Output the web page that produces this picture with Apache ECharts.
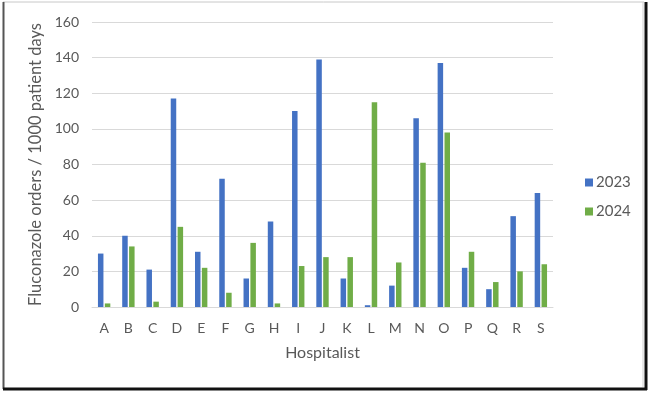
<!DOCTYPE html>
<html>
<head>
<meta charset="utf-8">
<script src="https://cdn.jsdelivr.net/npm/echarts@6/dist/echarts.min.js"></script>
<style>
    html, body {margin: 0; padding: 0; background: #fff;}
    #chart {width: 650px; height: 394px;}
</style>
</head>
<body>
<div id="chart"></div>
<script>
const hospitalists = ['A', 'B', 'C', 'D', 'E', 'F', 'G', 'H', 'I', 'J', 'K', 'L', 'M', 'N', 'O', 'P', 'Q', 'R', 'S'];
const values2023 = [30, 40, 21, 117, 31, 72, 16, 48, 110, 139, 16, 1, 12, 106, 137, 22, 10, 51, 64];
const values2024 = [2, 34, 3, 45, 22, 8, 36, 2, 23, 28, 28, 115, 25, 81, 98, 31, 14, 20, 24];
const yTicks = [0, 20, 40, 60, 80, 100, 120, 140, 160];

const textColor = '#595959',
    fontFamily = 'Lato, "Open Sans", sans-serif';

const chart = echarts.init(document.getElementById('chart'));

chart.setOption({
    animation: false,
    textStyle: {fontFamily: fontFamily, color: textColor},
    // frame round the picture
    graphic: [
        {type: 'line', shape: {x1: 3, y1: 2, x2: 644, y2: 2}, style: {stroke: '#c8c8c8', lineWidth: 1}},
        {type: 'line', shape: {x1: 3.5, y1: 2, x2: 3.5, y2: 389}, style: {stroke: '#555', lineWidth: 2}},
        {type: 'line', shape: {x1: 643, y1: 2, x2: 643, y2: 387}, style: {stroke: '#d0d0d0', lineWidth: 1}},
        {type: 'line', shape: {x1: 646, y1: 2, x2: 646, y2: 390}, style: {stroke: '#111', lineWidth: 3}},
        {type: 'line', shape: {x1: 3, y1: 389, x2: 647, y2: 389}, style: {stroke: '#111', lineWidth: 3}}
    ],
    legend: {
        orient: 'vertical',
        left: 580,
        top: 170,
        itemWidth: 8,
        itemHeight: 8,
        itemGap: 14,
        icon: 'rect',
        textStyle: {fontSize: 15, color: textColor, padding: [0, 0, 0, -2]},
        data: ['2023', '2024']
    },
    grid: {left: 92, right: 97, top: 22, bottom: 87},
    xAxis: {
        type: 'category',
        data: hospitalists,
        name: 'Hospitalist',
        nameLocation: 'middle',
        nameGap: 38,
        nameTextStyle: {fontSize: 16, color: textColor},
        axisTick: {show: false},
        axisLine: {lineStyle: {color: '#d9d9d9', width: 1}},
        axisLabel: {fontSize: 14, color: textColor, margin: 14}
    },
    yAxis: {
        type: 'value',
        min: yTicks[0],
        max: yTicks[yTicks.length - 1],
        interval: 20,
        name: 'Fluconazole orders / 1000 patient days',
        nameLocation: 'middle',
        nameGap: 46,
        nameTextStyle: {fontSize: 16.5, color: textColor},
        axisLabel: {fontSize: 14, color: textColor, margin: 13},
        splitLine: {lineStyle: {color: '#d9d9d9', width: 1}}
    },
    series: [
        {
            name: '2023',
            type: 'bar',
            data: values2023,
            barWidth: 5.5,
            barGap: '25%',
            itemStyle: {color: '#4472c4'}
        },
        {
            name: '2024',
            type: 'bar',
            data: values2024,
            barWidth: 5.5,
            itemStyle: {color: '#70ad47'}
        }
    ]
});
</script>
</body>
</html>
